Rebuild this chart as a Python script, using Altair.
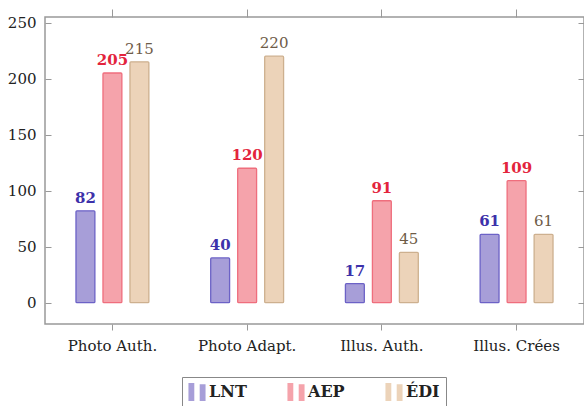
import altair as alt
import pandas as pd

categories = ["Photo Auth.", "Photo Adapt.", "Illus. Auth.", "Illus. Crées"]
series = ["LNT", "AEP", "ÉDI"]
lnt = [82, 40, 17, 61]
aep = [205, 120, 91, 109]
edi = [215, 220, 45, 61]
y_ticks = [0, 50, 100, 150, 200, 250]

fill_colors = ["#a79ed8", "#f5a3ab", "#ecd3b9"]
stroke_colors = ["#6c62c6", "#ef6e7d", "#cdb08f"]
label_colors = ["#3d31aa", "#e3243c", "#6e5b47"]

rows = []
for s, vals in zip(series, [lnt, aep, edi]):
    for c, v in zip(categories, vals):
        rows.append({"cat": c, "series": s, "value": v})
df = pd.DataFrame(rows)

FONT = "DejaVu Serif"
x_scale = alt.Scale(domain=categories, paddingInner=0.459, paddingOuter=0.23)
xo_scale = alt.Scale(domain=series, paddingInner=0.3, paddingOuter=0)
y_scale = alt.Scale(domain=[-19, 255], nice=False, zero=False)
label_color_scale = alt.Scale(domain=series, range=label_colors)

base = alt.Chart(df)

bars = base.mark_bar(strokeWidth=1.3, cornerRadius=1).encode(
    x=alt.X("cat:N", scale=x_scale, sort=categories,
            axis=alt.Axis(orient="bottom", title=None, labelAngle=0, tickSize=6,
                          domain=False, labelPadding=8, labelFont=FONT,
                          labelFontSize=15, labelColor="#222", tickColor="#999")),
    xOffset=alt.XOffset("series:N", scale=xo_scale, sort=series),
    y=alt.Y("value:Q", scale=y_scale,
            axis=alt.Axis(orient="left", values=y_ticks, offset=-6, tickSize=6,
                          domain=False, labelPadding=9, title=None, grid=False,
                          labelFont=FONT, labelFontSize=15, labelColor="#222",
                          tickColor="#999")),
    y2=alt.datum(0),
    fill=alt.Fill("series:N", scale=alt.Scale(domain=series, range=fill_colors),
                  legend=alt.Legend(orient="none", legendX=137, legendY=360,
                                    direction="horizontal", title=None,
                                    symbolType="M-0.95,-1H-0.3V1H-0.95Z M0.3,-0.85H0.95V1H0.3Z",
                                    symbolSize=324, symbolStrokeWidth=0,
                                    labelFont=FONT, labelFontSize=16, labelFontWeight="bold",
                                    labelColor="#222",
                                    strokeColor="#888", padding=6, columnPadding=40,
                                    labelOffset=3, symbolOpacity=1)),
    stroke=alt.Stroke("series:N", scale=alt.Scale(domain=series, range=stroke_colors),
                      legend=None),
)

labels_bold = base.transform_filter(alt.datum.series != "ÉDI").mark_text(
    dy=-5, baseline="bottom", fontSize=15, font=FONT, fontWeight="bold"
).encode(
    x=alt.X("cat:N", scale=x_scale, sort=categories,
            axis=alt.Axis(orient="top", title=None, labels=False, tickSize=8,
                          domain=False, tickColor="#999")),
    xOffset=alt.XOffset("series:N", scale=xo_scale, sort=series),
    y=alt.Y("value:Q", scale=y_scale,
            axis=alt.Axis(orient="right", values=y_ticks, offset=-6, tickSize=6,
                          domain=False, labels=False, title=None, grid=False,
                          tickColor="#999")),
    text=alt.Text("value:Q"),
    color=alt.Color("series:N", scale=label_color_scale, legend=None),
)

labels_normal = base.transform_filter(alt.datum.series == "ÉDI").mark_text(
    dy=-5, baseline="bottom", fontSize=15, font=FONT
).encode(
    x=alt.X("cat:N", scale=x_scale, sort=categories, axis=None),
    xOffset=alt.XOffset("series:N", scale=xo_scale, sort=series),
    y=alt.Y("value:Q", scale=y_scale, axis=None),
    text=alt.Text("value:Q"),
    color=alt.Color("series:N", scale=label_color_scale, legend=None),
)

chart = alt.layer(bars, labels_bold, labels_normal).resolve_axis(
    x="independent", y="independent"
).properties(
    width=539, height=307,
    autosize=alt.AutoSizeParams(type="none"),
    padding={"left": 45, "top": 17, "right": 0, "bottom": 82},
    background="white",
).configure_view(stroke="#999", strokeWidth=1.5)

chart.save("out.html", embed_options={"renderer": "svg", "actions": False})
